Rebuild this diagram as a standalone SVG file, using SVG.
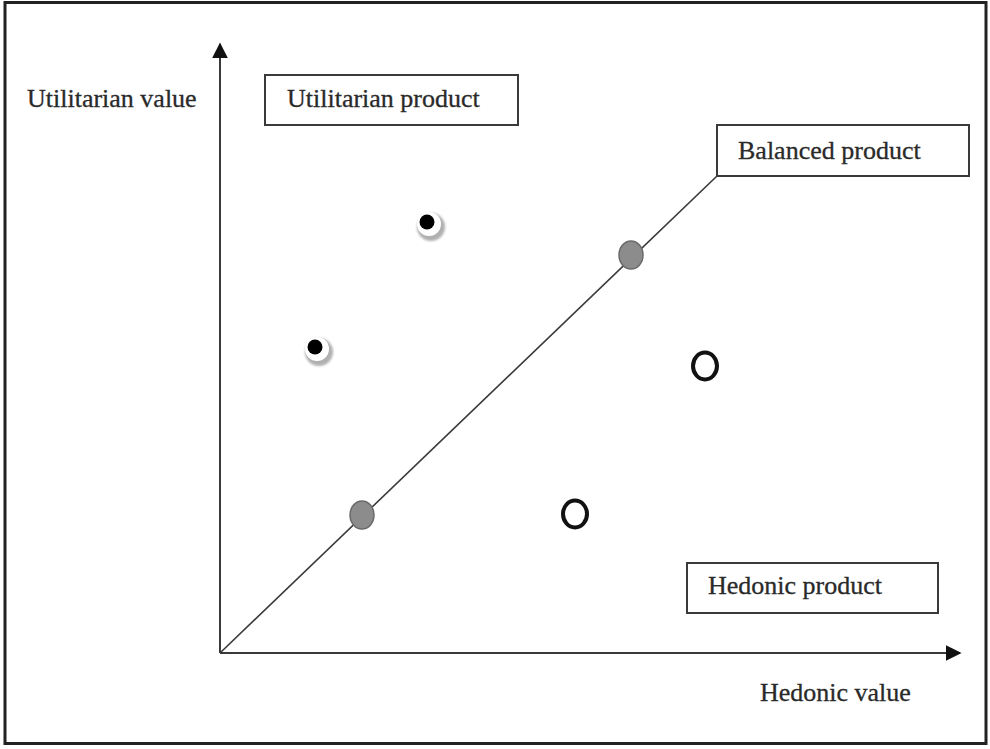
<svg xmlns="http://www.w3.org/2000/svg" width="990" height="749" viewBox="0 0 990 749">
  <defs>
    <style>
      .lbl { font-family: "Liberation Serif", "Times New Roman", serif; font-size: 26px; fill: #2a2a2a; stroke: #2a2a2a; stroke-width: 0.3; }
      .box { fill: #ffffff; stroke: #3a3a3a; stroke-width: 2; }
      .axis { stroke: #3a3a3a; stroke-width: 2; fill: none; }
      .diag { stroke: #3a3a3a; stroke-width: 1.6; fill: none; }
      .grey { fill: #8c8c8c; stroke: #6a6a6a; stroke-width: 1.5; }
      .open { fill: none; stroke: #111111; stroke-width: 4; }
    </style>
    <marker id="tip" viewBox="0 0 10 10" refX="9" refY="5" markerWidth="8" markerHeight="8" orient="auto">
      <path d="M0,0 L10,5 L0,10 z" fill="#111111"/>
    </marker>
    <filter id="soft" x="-50%" y="-50%" width="200%" height="200%">
      <feGaussianBlur stdDeviation="1.2"/>
    </filter>
  </defs>

  <!-- outer frame -->
  <rect x="5" y="2.5" width="981" height="741" fill="#ffffff" stroke="#222222" stroke-width="3"/>

  <!-- axes and diagonal -->
  <g id="connectors">
    <line class="axis" x1="220" y1="653" x2="220" y2="44" marker-end="url(#tip)"/>
    <line class="axis" x1="220" y1="653" x2="960" y2="653" marker-end="url(#tip)"/>
    <line class="diag" x1="220" y1="653" x2="717" y2="176"/>
  </g>

  <g id="axis-label-y">
    <text class="lbl" x="27" y="107">Utilitarian value</text>
  </g>
  <g id="axis-label-x">
    <text class="lbl" x="760" y="701">Hedonic value</text>
  </g>

  <g id="utilitarian-product">
    <rect class="box" x="265" y="75" width="253" height="50"/>
    <text class="lbl" x="287" y="107">Utilitarian product</text>
  </g>
  <g id="balanced-product">
    <rect class="box" x="717" y="125" width="252" height="51"/>
    <text class="lbl" x="738" y="159">Balanced product</text>
  </g>
  <g id="hedonic-product">
    <rect class="box" x="687" y="563" width="251" height="50"/>
    <text class="lbl" x="708" y="594">Hedonic product</text>
  </g>

  <!-- utilitarian points: black dot with soft shadow ring -->
  <g id="point-u1">
    <circle cx="431" cy="227" r="14" fill="#b0b0b0" filter="url(#soft)"/>
    <circle cx="429" cy="224" r="12" fill="#ffffff"/>
    <circle cx="427" cy="222" r="7.5" fill="#000000"/>
  </g>
  <g id="point-u2">
    <circle cx="319" cy="352" r="14" fill="#b0b0b0" filter="url(#soft)"/>
    <circle cx="317" cy="349" r="12" fill="#ffffff"/>
    <circle cx="315" cy="347" r="7.5" fill="#000000"/>
  </g>

  <!-- balanced points -->
  <g id="point-b1">
    <ellipse class="grey" cx="631" cy="255" rx="12" ry="14"/>
  </g>
  <g id="point-b2">
    <ellipse class="grey" cx="362" cy="515" rx="12" ry="14"/>
  </g>

  <!-- hedonic points -->
  <g id="point-h1">
    <ellipse class="open" cx="705" cy="366" rx="12" ry="13.5"/>
  </g>
  <g id="point-h2">
    <ellipse class="open" cx="575" cy="514" rx="12" ry="13.5"/>
  </g>
</svg>
